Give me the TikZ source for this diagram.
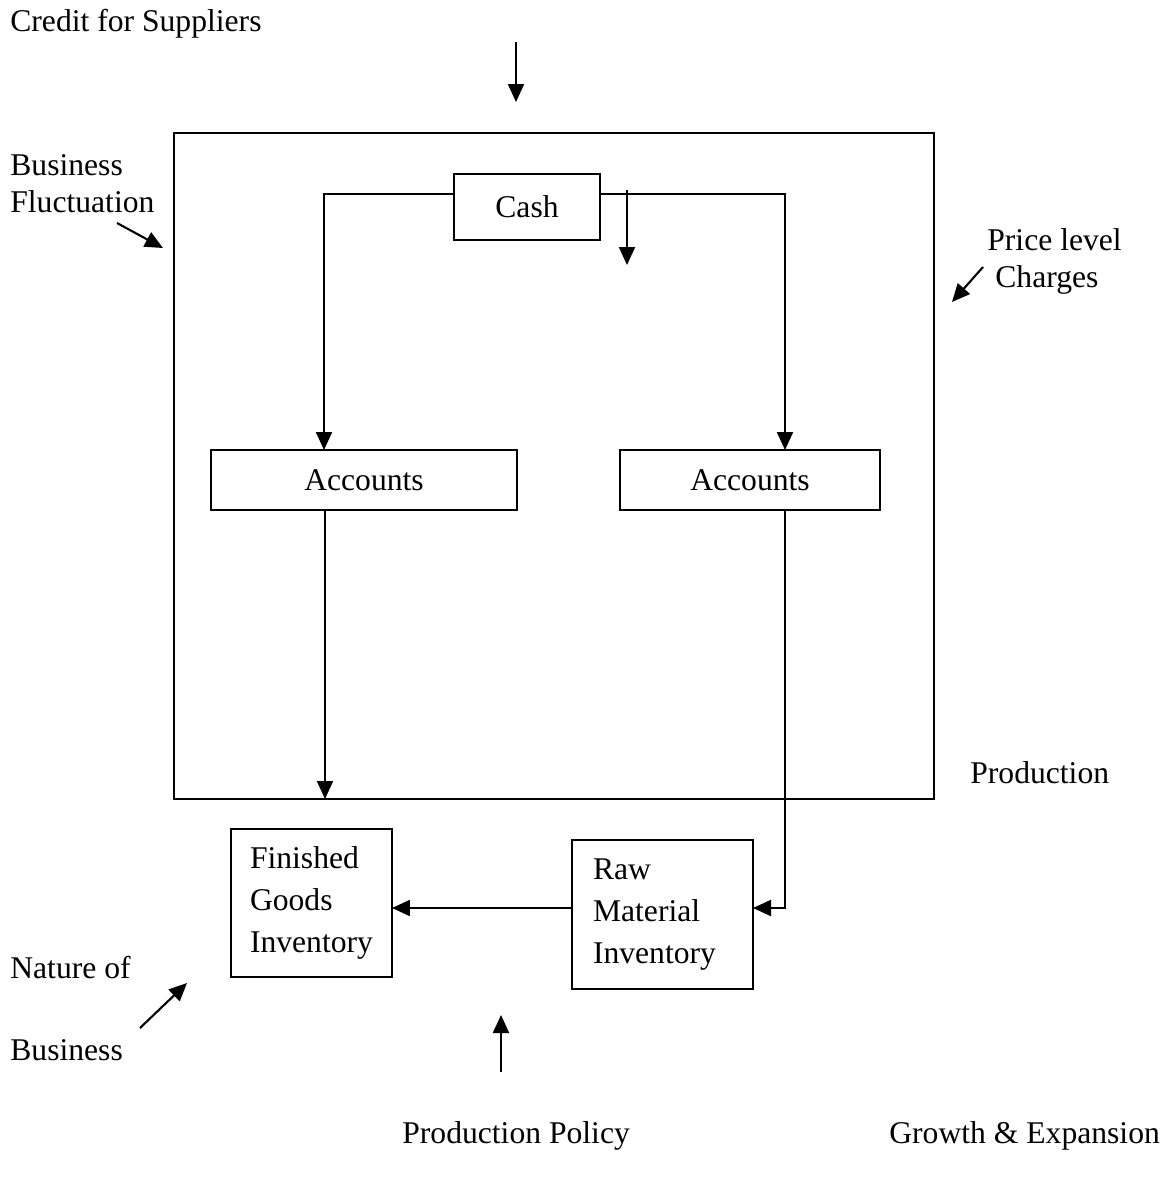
\documentclass[tikz,border=0pt]{standalone}
\usepackage{fontspec}
\setmainfont{Liberation Serif}
\usetikzlibrary{arrows.meta}
\begin{document}
\begin{tikzpicture}[x=0.02cm,y=-0.02cm,
  every node/.style={font=\fontsize{18}{24}\selectfont},
  lbl/.style={inner sep=0pt, anchor=base west},
  arr/.style={line width=1.2pt, -{Triangle[length=0.36cm,width=0.32cm]}},
  bx/.style={draw, line width=1.2pt, inner sep=0pt},
  inv/.style={draw, line width=1.2pt, align=left, inner ysep=0pt}]
\useasboundingbox (0,0) rectangle (1170,1178);
% labels
\node[lbl] (credit) at (10,31) {Credit for Suppliers};
\node[lbl] (bf1) at (10,175) {Business};
\node[lbl] (bf2) at (10,212) {Fluctuation};
\node[lbl] (pl1) at (987,250) {Price level};
\node[lbl] (pl2) at (995,287) {Charges};
\node[lbl] (prod) at (970,783) {Production};
\node[lbl] (nb1) at (10,978) {Nature of};
\node[lbl] (nb2) at (10,1060) {Business};
\node[lbl] (pp) at (402,1143) {Production Policy};
\node[lbl] (ge) at (889,1143) {Growth \& Expansion};
% big box
\node[bx, minimum width=15.2cm, minimum height=13.32cm] (big) at (554,466) {};
% boxes
\node[bx, minimum width=2.92cm, minimum height=1.32cm] (cash) at (527,207) {Cash};
\node[bx, minimum width=6.12cm, minimum height=1.2cm] (acc1) at (364,480) {Accounts};
\node[bx, minimum width=5.2cm, minimum height=1.2cm] (acc2) at (750,480) {Accounts};
\node[inv, minimum height=2.96cm, text width=2.46cm, inner xsep=0.38cm] (fg) at (311.5,903) {Finished\\Goods\\Inventory};
\node[inv, minimum height=2.98cm, text width=2.78cm, inner xsep=0.42cm] (raw) at (662.5,914.5) {Raw\\Material\\Inventory};
% coordinates
\coordinate (cl) at (454,194);
\coordinate (cr) at (600,194);
\coordinate (a1t) at (324,450);
\coordinate (a2t) at (785,450);
\coordinate (c1) at (785,194);
\coordinate (a1b) at (325,510);
\coordinate (bigb) at (325,799);
\coordinate (a2b) at (785,510);
\coordinate (c2) at (785,908);
\coordinate (rawe) at (753,908);
\coordinate (raww) at (572,908);
\coordinate (fge) at (392,908);
\coordinate (s1) at (627,190);
\coordinate (s2) at (627,265);
\coordinate (t1) at (516,42);
\coordinate (t2) at (516,102);
\coordinate (bfa) at (117,223);
\coordinate (bfb) at (163,248);
\coordinate (pla) at (983,267);
\coordinate (plb) at (952,302);
\coordinate (nba) at (140,1028);
\coordinate (nbb) at (187,983);
\coordinate (ppa) at (501,1072);
\coordinate (ppb) at (501,1015);
% connectors
\draw[arr] (cl) -| (a1t);
\draw[arr] (cr) -- (c1) -- (a2t);
\draw[arr] (s1) -- (s2);
\draw[arr] (a1b) -- (bigb);
\draw[arr] (a2b) -- (c2) -- (rawe);
\draw[arr] (raww) -- (fge);
\draw[arr] (t1) -- (t2);
\draw[arr] (bfa) -- (bfb);
\draw[arr] (pla) -- (plb);
\draw[arr] (nba) -- (nbb);
\draw[arr] (ppa) -- (ppb);
\end{tikzpicture}
\end{document}
